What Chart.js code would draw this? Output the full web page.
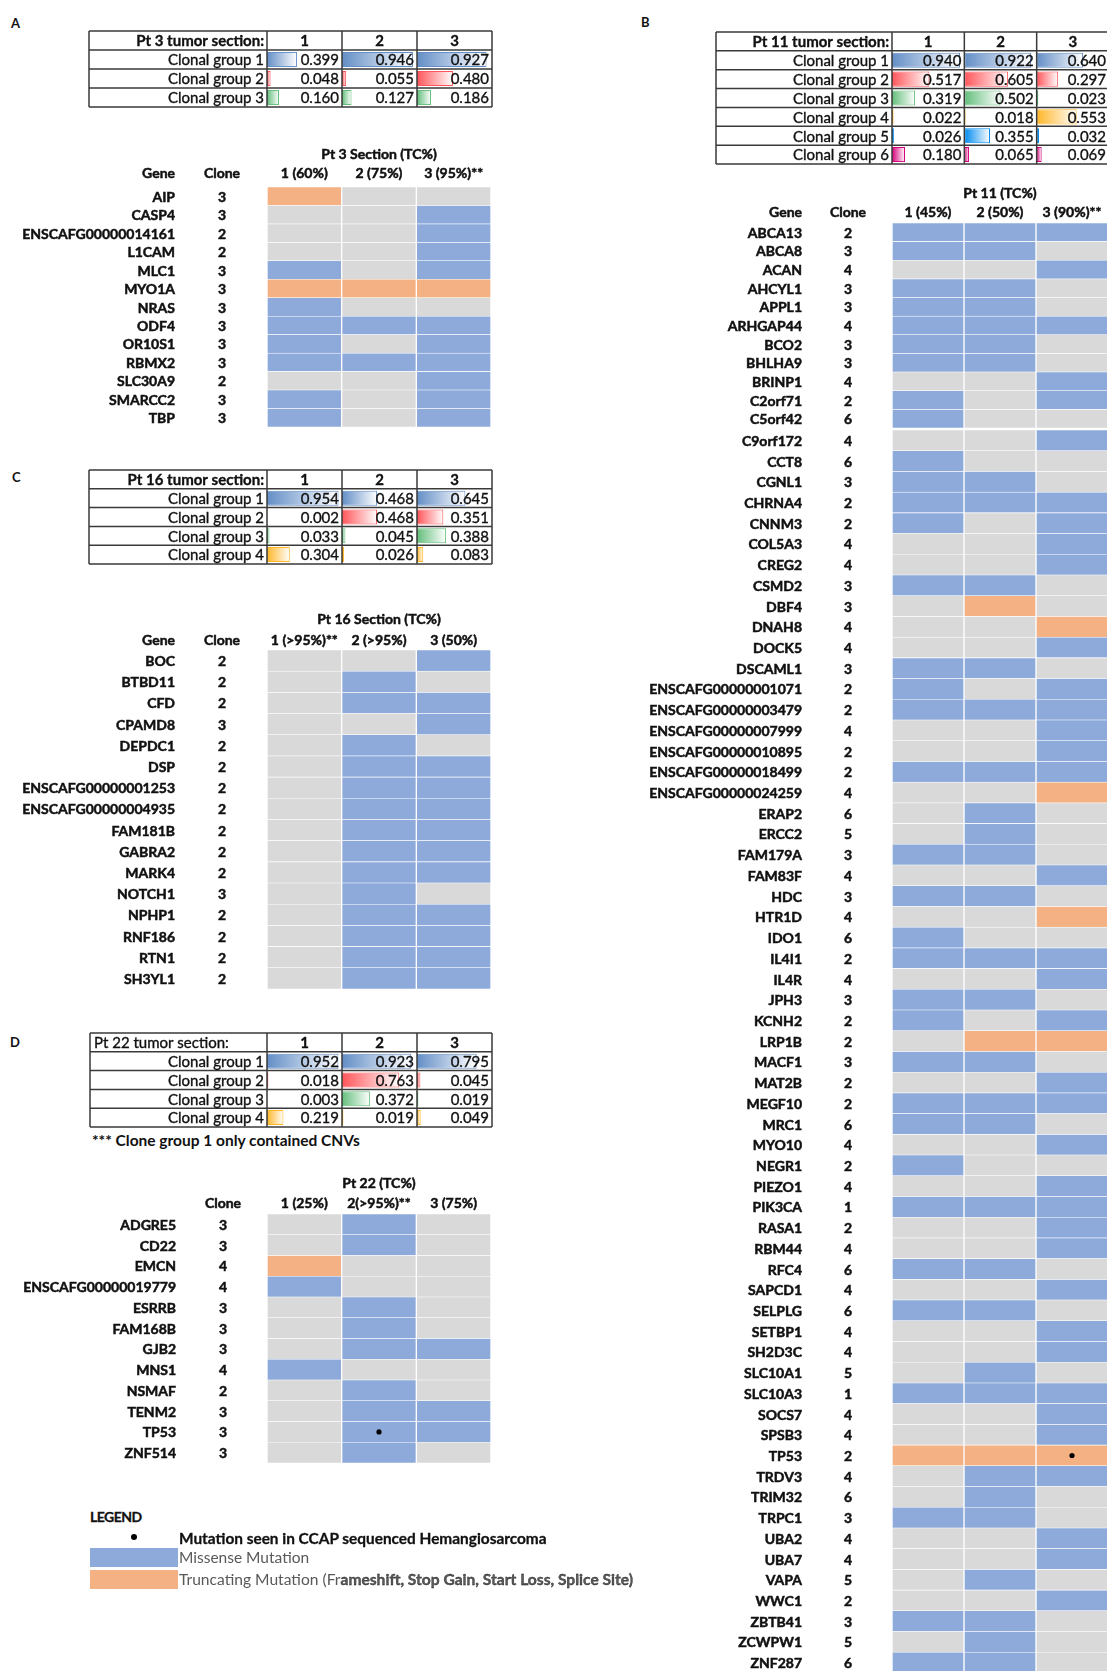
<!DOCTYPE html>
<html>
<head>
<meta charset="utf-8">
<title>Clonal groups and mutations per tumor section</title>
<script src="https://cdn.jsdelivr.net/npm/chart.js@4.4.1/dist/chart.umd.min.js"></script>
<style>
  html, body { margin: 0; padding: 0; background: #fff; }
  body { position: relative; width: 1107px; height: 1671px; overflow: hidden; font-family: Lato, "Noto Sans", sans-serif; color: #111; }
  canvas { position: absolute; }
  .t { position: absolute; white-space: nowrap; line-height: 20px; }
  .tag { font-weight: bold; font-size: 13px; }
  .sw { position: absolute; width: 88px; height: 19px; }
  .b { font-weight: bold; -webkit-text-stroke: 0.3px #111; }
</style>
</head>
<body>
<div class="t tag" style="left:11px;top:13px">A</div>
<div class="t tag" style="left:641px;top:12px">B</div>
<div class="t tag" style="left:12px;top:467px">C</div>
<div class="t tag" style="left:10px;top:1032px">D</div>

<canvas id="tab3"></canvas>
<canvas id="heat3"></canvas>
<canvas id="tab11"></canvas>
<canvas id="heat11a"></canvas>
<canvas id="heat11b"></canvas>
<canvas id="tab16"></canvas>
<canvas id="heat16"></canvas>
<canvas id="tab22"></canvas>
<canvas id="heat22"></canvas>

<div class="t" style="left:92px;top:1130px;font-weight:bold;font-size:15.5px">*** Clone group 1 only contained CNVs</div>

<div class="t b" style="left:90px;top:1507px;font-size:14px;letter-spacing:-0.5px">LEGEND</div>
<div style="position:absolute;left:131px;top:1534px;width:6px;height:6px;border-radius:3px;background:#000"></div>
<div class="t b" style="left:179px;top:1528px;font-size:15.4px">Mutation seen in CCAP sequenced Hemangiosarcoma</div>
<div class="sw" style="left:90px;top:1548px;background:#8eaadb"></div>
<div class="t" style="left:179px;top:1547px;font-size:15.5px;color:#595959">Missense Mutation</div>
<div class="sw" style="left:90px;top:1570px;background:#f4b183"></div>
<div class="t" style="left:179px;top:1569px;font-size:15.6px;color:#595959">Truncating Mutation (Fr<span class="b">ameshift, Stop Gain, Start Loss, Splice Site)</span></div>

<script>
const sectionNums = ["1", "2", "3"];

// ---- Pt 3 ----
const pt3Groups = ["Clonal group 1", "Clonal group 2", "Clonal group 3"];
const pt3Frac = [
  [0.399, 0.946, 0.927],
  [0.048, 0.055, 0.480],
  [0.160, 0.127, 0.186]
];
const pt3Sections = ["1 (60%)", "2 (75%)", "3 (95%)**"];
const pt3Genes = ["AIP", "CASP4", "ENSCAFG00000014161", "L1CAM", "MLC1", "MYO1A", "NRAS",
  "ODF4", "OR10S1", "RBMX2", "SLC30A9", "SMARCC2", "TBP"];
const pt3Clones = [3, 3, 2, 2, 3, 3, 3, 3, 3, 3, 2, 3, 3];
// one letter per section: M = missense, T = truncating, . = not found
const pt3Calls = ["T..", "..M", "..M", "..M", "M.M", "TTT", "M..", "MMM", "M.M", "MMM", "..M", "M.M", "M.M"];
const pt3Dots = [];

// ---- Pt 11 ----
const pt11Groups = ["Clonal group 1", "Clonal group 2", "Clonal group 3",
  "Clonal group 4", "Clonal group 5", "Clonal group 6"];
const pt11Frac = [
  [0.940, 0.922, 0.640],
  [0.517, 0.605, 0.297],
  [0.319, 0.502, 0.023],
  [0.022, 0.018, 0.553],
  [0.026, 0.355, 0.032],
  [0.180, 0.065, 0.069]
];
const pt11Sections = ["1 (45%)", "2 (50%)", "3 (90%)**"];
const pt11Genes = ["ABCA13", "ABCA8", "ACAN", "AHCYL1", "APPL1", "ARHGAP44", "BCO2", "BHLHA9",
  "BRINP1", "C2orf71", "C5orf42", "C9orf172", "CCT8", "CGNL1", "CHRNA4", "CNNM3", "COL5A3",
  "CREG2", "CSMD2", "DBF4", "DNAH8", "DOCK5", "DSCAML1", "ENSCAFG00000001071",
  "ENSCAFG00000003479", "ENSCAFG00000007999", "ENSCAFG00000010895", "ENSCAFG00000018499",
  "ENSCAFG00000024259", "ERAP2", "ERCC2", "FAM179A", "FAM83F", "HDC", "HTR1D", "IDO1",
  "IL4I1", "IL4R", "JPH3", "KCNH2", "LRP1B", "MACF1", "MAT2B", "MEGF10", "MRC1", "MYO10",
  "NEGR1", "PIEZO1", "PIK3CA", "RASA1", "RBM44", "RFC4", "SAPCD1", "SELPLG", "SETBP1",
  "SH2D3C", "SLC10A1", "SLC10A3", "SOCS7", "SPSB3", "TP53", "TRDV3", "TRIM32", "TRPC1",
  "UBA2", "UBA7", "VAPA", "WWC1", "ZBTB41", "ZCWPW1", "ZNF287"];
const pt11Clones = [2, 3, 4, 3, 3, 4, 3, 3, 4, 2, 6, 4, 6, 3, 2, 2, 4, 4, 3, 3, 4, 4, 3, 2,
  2, 4, 2, 2, 4, 6, 5, 3, 4, 3, 4, 6, 2, 4, 3, 2, 2, 3, 2, 2, 6, 4, 2, 4, 1, 2, 4, 6, 4, 6,
  4, 4, 5, 1, 4, 4, 2, 4, 6, 3, 4, 4, 5, 2, 3, 5, 6];
const pt11Calls = ["MMM", "MM.", "..M", "MM.", "MM.", "MMM", "MM.", "MM.", "..M", "M.M", "M..",
  "..M", "M..", "MM.", "MMM", "M.M", "..M", "..M", "MM.", ".T.", "..T", "..M", "MM.", "M.M",
  "MMM", "..M", "..M", "MMM", "..T", ".M.", ".M.", "MM.", "..M", "MM.", "..T", "M..", "MMM",
  "..M", "MM.", "M.M", ".TT", "MM.", "..M", "MMM", "MM.", "..M", "M..", "..M", "MMM", "..M",
  "..M", "MM.", "..M", "MM.", "..M", "..M", ".M.", "MMM", "..M", "..M", "TTT", ".MM", ".M.",
  "MM.", "..M", "..M", ".M.", "..M", "MM.", ".M.", "MM."];
const pt11Dots = [["TP53", 3]];

// ---- Pt 16 ----
const pt16Groups = ["Clonal group 1", "Clonal group 2", "Clonal group 3", "Clonal group 4"];
const pt16Frac = [
  [0.954, 0.468, 0.645],
  [0.002, 0.468, 0.351],
  [0.033, 0.045, 0.388],
  [0.304, 0.026, 0.083]
];
const pt16Sections = ["1 (>95%)**", "2 (>95%)", "3 (50%)"];
const pt16Genes = ["BOC", "BTBD11", "CFD", "CPAMD8", "DEPDC1", "DSP", "ENSCAFG00000001253",
  "ENSCAFG00000004935", "FAM181B", "GABRA2", "MARK4", "NOTCH1", "NPHP1", "RNF186", "RTN1", "SH3YL1"];
const pt16Clones = [2, 2, 2, 3, 2, 2, 2, 2, 2, 2, 2, 3, 2, 2, 2, 2];
const pt16Calls = ["..M", ".M.", ".MM", "..M", ".M.", ".MM", ".MM", ".MM", ".MM", ".MM", ".MM",
  ".M.", ".MM", ".MM", ".MM", ".MM"];
const pt16Dots = [];

// ---- Pt 22 ----
const pt22Groups = ["Clonal group 1", "Clonal group 2", "Clonal group 3", "Clonal group 4"];
const pt22Frac = [
  [0.952, 0.923, 0.795],
  [0.018, 0.763, 0.045],
  [0.003, 0.372, 0.019],
  [0.219, 0.019, 0.049]
];
const pt22Sections = ["1 (25%)", "2(>95%)**", "3 (75%)"];
const pt22Genes = ["ADGRE5", "CD22", "EMCN", "ENSCAFG00000019779", "ESRRB", "FAM168B", "GJB2",
  "MNS1", "NSMAF", "TENM2", "TP53", "ZNF514"];
const pt22Clones = [3, 3, 4, 4, 3, 3, 3, 4, 2, 3, 3, 3];
const pt22Calls = [".M.", ".M.", "T..", "M..", ".M.", ".M.", ".MM", "M..", ".M.", ".MM", ".MM", ".M."];
const pt22Dots = [["TP53", 2]];

// ---- drawing ----
const FONT = "Lato, 'Noto Sans', sans-serif";
const INK = "#111";
const callColor = { ".": "#d9d9d9", "M": "#8eaadb", "T": "#f4b183" };
const barColors = ["#638ec6", "#ff555a", "#63be7b", "#ffb628", "#008aef", "#d6007b"];

// size a canvas so that its chart area lands on box
function place(id, box, pad) {
  const cv = document.getElementById(id);
  cv.width = box.w + pad.l + pad.r;
  cv.height = box.h + pad.t + pad.b;
  cv.style.left = (box.x - pad.l) + "px";
  cv.style.top = (box.y - pad.t) + "px";
  return cv;
}

// fill + thin stroke, the source font is heavier than Lato
function ink(ctx, s, x, y, w) {
  ctx.fillText(s, x, y);
  if (w) { ctx.lineWidth = w; ctx.strokeText(s, x, y); }
}

function baseOptions(pad, plugins) {
  return {
    indexAxis: "y",
    responsive: false,
    animation: false,
    events: [],
    layout: { padding: { left: pad.l, top: pad.t, right: pad.r, bottom: pad.b } },
    plugins: Object.assign({ legend: { display: false }, tooltip: { enabled: false } }, plugins),
    scales: {
      x: { type: "linear", min: 0, max: 3, display: false },
      y: { type: "category", offset: true, display: false }
    }
  };
}

const tableGrid = {
  id: "tableGrid",
  afterDatasetsDraw(chart, args, o) {
    const { ctx, chartArea: a, scales: { x, y } } = chart;
    const rows = chart.data.labels;
    const step = y.getPixelForValue(1) - y.getPixelForValue(0);
    const left = a.left - o.labelW;
    ctx.save();
    ctx.strokeStyle = "#3a3a3a";
    ctx.lineWidth = 1.5;
    ctx.beginPath();
    rows.forEach((r, i) => {
      const yy = y.getPixelForValue(i) - step / 2;
      ctx.moveTo(left, yy); ctx.lineTo(a.right, yy);
    });
    ctx.moveTo(left, a.bottom); ctx.lineTo(a.right, a.bottom);
    [left, ...sectionNums.map((s, j) => x.getPixelForValue(j)), a.right].forEach(xx => {
      ctx.moveTo(xx, a.top); ctx.lineTo(xx, a.bottom);
    });
    ctx.stroke();

    ctx.fillStyle = INK;
    ctx.strokeStyle = INK;
    ctx.textBaseline = "middle";
    rows.forEach((r, i) => {
      const yy = y.getPixelForValue(i) + 1;
      const bold = i === 0;
      ctx.font = (bold ? "bold " : "") + o.size + "px " + FONT;
      if (bold && o.headLeft) {
        ctx.font = o.size + "px " + FONT;
        ctx.textAlign = "left";
        ink(ctx, r, left + 4, yy, 0.35);
      } else {
        ctx.textAlign = "right";
        ink(ctx, r, a.left - 3, yy, 0.35);
      }
      ctx.font = (bold ? "bold " : "") + o.size + "px " + FONT;
      sectionNums.forEach((s, j) => {
        if (i === 0) {
          ctx.textAlign = "center";
          ink(ctx, s, x.getPixelForValue(j + 0.5), yy, 0.35);
        } else {
          const d = chart.data.datasets[j].data[i];
          ctx.textAlign = "right";
          ink(ctx, (d[1] - d[0]).toFixed(3), x.getPixelForValue(j + 1) - 3, yy, 0.35);
        }
      });
    });
    ctx.restore();
  }
};

function clonalTable(id, header, groups, frac, look) {
  const pad = { l: look.labelW + 2, t: 2, r: 2, b: 2 };
  const cv = place(id, look.box, pad);
  const datasets = sectionNums.map((s, j) => ({
    data: [null].concat(frac.map(row => [j, j + row[j]])),
    grouped: false,
    barPercentage: 0.8,
    categoryPercentage: 1,
    borderWidth: 1,
    borderSkipped: false,
    borderColor: c => barColors[c.dataIndex - 1] || "#fff",
    backgroundColor: c => {
      const col = barColors[c.dataIndex - 1] || "#fff";
      const x = c.chart.scales.x;
      if (!x || !Array.isArray(c.raw)) return col;
      const g = c.chart.ctx.createLinearGradient(x.getPixelForValue(c.raw[0]), 0, x.getPixelForValue(c.raw[1]), 0);
      g.addColorStop(0, col);
      g.addColorStop(1, "#ffffff");
      return g;
    }
  }));
  new Chart(cv, {
    type: "bar",
    data: { labels: [header].concat(groups), datasets },
    options: baseOptions(pad, { tableGrid: { labelW: look.labelW, size: look.size, headLeft: !!look.headLeft } }),
    plugins: [tableGrid]
  });
}

const heatLabels = {
  id: "heatLabels",
  afterDraw(chart, args, o) {
    const { ctx, chartArea: a, scales: { x, y } } = chart;
    ctx.save();
    ctx.fillStyle = INK;
    ctx.strokeStyle = INK;
    ctx.textBaseline = "middle";
    ctx.font = "bold 14px " + FONT;
    chart.data.labels.forEach((g, i) => {
      const yy = y.getPixelForValue(i) + 1;
      ctx.textAlign = "right";
      ink(ctx, g, a.left + o.geneDx, yy, 0.5);
      ctx.textAlign = "center";
      ink(ctx, String(o.clones[i]), a.left + o.cloneDx, yy, 0.5);
    });
    if (o.title) {
      ctx.textAlign = "center";
      ink(ctx, o.title, (a.left + a.right) / 2, a.top + o.titleDy, 0.5);
      o.sections.forEach((s, j) => ink(ctx, s, x.getPixelForValue(j + 0.5), a.top + o.headDy, 0.5));
      ink(ctx, "Clone", a.left + o.cloneDx, a.top + o.headDy, 0.5);
      if (o.geneHead) {
        ctx.textAlign = "right";
        ink(ctx, "Gene", a.left + o.geneDx, a.top + o.headDy, 0.5);
      }
    }
    ctx.restore();
  }
};

function heatmap(id, genes, clones, calls, dots, look) {
  const cv = place(id, look.box, look.pad);
  const cells = sectionNums.map((s, j) => ({
    data: genes.map(() => [j, j + 1]),
    backgroundColor: calls.map(c => callColor[c[j]]),
    borderColor: "#ffffff",
    borderWidth: { top: 0.6, bottom: 0.6, left: 1, right: 1 },
    borderSkipped: false,
    grouped: false,
    barPercentage: 1,
    categoryPercentage: 1
  }));
  const marks = {
    type: "scatter",
    data: dots.filter(d => genes.includes(d[0])).map(d => ({ x: d[1] - 0.5, y: d[0] })),
    backgroundColor: "#000",
    borderWidth: 0,
    pointRadius: 2.6,
    order: -1
  };
  new Chart(cv, {
    type: "bar",
    data: { labels: genes, datasets: cells.concat([marks]) },
    options: baseOptions(look.pad, {
      heatLabels: Object.assign({ clones, sections: look.sections }, look.text)
    }),
    plugins: [heatLabels]
  });
}

// Pt 3 (A)
clonalTable("tab3", "Pt 3 tumor section:", pt3Groups, pt3Frac,
  { box: { x: 267, y: 31, w: 225, h: 76 }, labelW: 178, size: 15 });
heatmap("heat3", pt3Genes, pt3Clones, pt3Calls, pt3Dots, {
  box: { x: 267, y: 187, w: 224, h: 240 }, pad: { l: 262, t: 48, r: 4, b: 4 },
  sections: pt3Sections,
  text: { geneDx: -92, cloneDx: -45, title: "Pt 3 Section (TC%)", titleDy: -33, headDy: -14, geneHead: true }
});

// Pt 11 (B) - the first rows are packed tighter in the source, so two blocks
const split11 = 11;
clonalTable("tab11", "Pt 11 tumor section:", pt11Groups, pt11Frac,
  { box: { x: 892, y: 32, w: 217, h: 132 }, labelW: 176, size: 15 });
heatmap("heat11a", pt11Genes.slice(0, split11), pt11Clones.slice(0, split11), pt11Calls.slice(0, split11), pt11Dots, {
  box: { x: 892, y: 223, w: 216, h: 205 }, pad: { l: 290, t: 46, r: 4, b: 2 },
  sections: pt11Sections,
  text: { geneDx: -90, cloneDx: -44, title: "Pt 11 (TC%)", titleDy: -30, headDy: -11, geneHead: true }
});
heatmap("heat11b", pt11Genes.slice(split11), pt11Clones.slice(split11), pt11Calls.slice(split11), pt11Dots, {
  box: { x: 892, y: 428, w: 216, h: 1245 }, pad: { l: 290, t: 2, r: 4, b: 4 },
  sections: pt11Sections,
  text: { geneDx: -90, cloneDx: -44 }
});

// Pt 16 (C)
clonalTable("tab16", "Pt 16 tumor section:", pt16Groups, pt16Frac,
  { box: { x: 267, y: 470, w: 225, h: 94 }, labelW: 178, size: 15 });
heatmap("heat16", pt16Genes, pt16Clones, pt16Calls, pt16Dots, {
  box: { x: 267, y: 650, w: 224, h: 339 }, pad: { l: 262, t: 48, r: 4, b: 4 },
  sections: pt16Sections,
  text: { geneDx: -92, cloneDx: -45, title: "Pt 16 Section (TC%)", titleDy: -31, headDy: -10, geneHead: true }
});

// Pt 22 (D)
clonalTable("tab22", "Pt 22 tumor section:", pt22Groups, pt22Frac,
  { box: { x: 267, y: 1033, w: 225, h: 94 }, labelW: 177, size: 15, headLeft: true });
heatmap("heat22", pt22Genes, pt22Clones, pt22Calls, pt22Dots, {
  box: { x: 267, y: 1214, w: 224, h: 249 }, pad: { l: 262, t: 48, r: 4, b: 4 },
  sections: pt22Sections,
  text: { geneDx: -91, cloneDx: -44, title: "Pt 22 (TC%)", titleDy: -31, headDy: -11, geneHead: false }
});
</script>
</body>
</html>
